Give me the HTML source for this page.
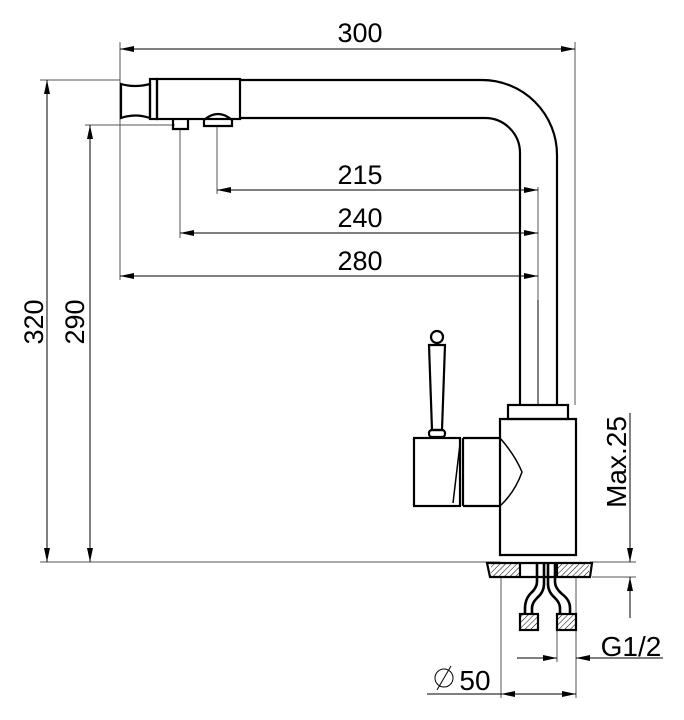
<!DOCTYPE html>
<html><head><meta charset="utf-8"><style>html,body{margin:0;padding:0;background:#fff}svg{display:block}text{font-family:"Liberation Sans",sans-serif;fill:#000}</style></head><body>
<svg width="684" height="720" viewBox="0 0 684 720" xmlns="http://www.w3.org/2000/svg">
<defs>
<marker id="a" viewBox="0 0 14 6" refX="14" refY="3" markerWidth="14" markerHeight="6" markerUnits="userSpaceOnUse" orient="auto"><path d="M0,0L14,3L0,6z" fill="#000"/></marker>
<pattern id="h" width="4" height="4" patternUnits="userSpaceOnUse" patternTransform="rotate(45)"><line x1="0" y1="0" x2="0" y2="4" stroke="#000" stroke-width="1"/></pattern>
</defs>
<g stroke="#555" stroke-width="1" fill="none">
<line x1="120" y1="42" x2="120" y2="280"/>
<line x1="575" y1="42" x2="575" y2="405"/>
<line x1="538" y1="187" x2="538" y2="405"/>
<line x1="40" y1="80" x2="120" y2="80"/>
<line x1="85" y1="125" x2="175" y2="125"/>
<line x1="40" y1="562" x2="500" y2="562"/>
<line x1="180" y1="128" x2="180" y2="238"/>
<line x1="217" y1="126" x2="217" y2="194"/>
<line x1="590" y1="562" x2="636" y2="562"/>
<line x1="592" y1="577" x2="636" y2="577"/>
<line x1="501" y1="577" x2="501" y2="698"/>
<line x1="576" y1="577" x2="576" y2="698"/>
<line x1="557" y1="630" x2="557" y2="662"/>
</g>
<g stroke="#000" stroke-width="1" fill="none">
<line x1="538" y1="190" x2="217" y2="190" marker-end="url(#a)"/>
<line x1="217" y1="190" x2="538" y2="190" marker-end="url(#a)"/>
<line x1="180" y1="233" x2="538" y2="233" marker-end="url(#a)"/>
<line x1="538" y1="233" x2="180" y2="233" marker-end="url(#a)"/>
<line x1="120" y1="276" x2="538" y2="276" marker-end="url(#a)"/>
<line x1="538" y1="276" x2="120" y2="276" marker-end="url(#a)"/>
<line x1="347" y1="49" x2="575" y2="49" marker-end="url(#a)"/>
<line x1="347" y1="49" x2="120" y2="49" marker-end="url(#a)"/>
<line x1="47" y1="320" x2="47" y2="80" marker-end="url(#a)"/>
<line x1="47" y1="320" x2="47" y2="562" marker-end="url(#a)"/>
<line x1="90" y1="340" x2="90" y2="125" marker-end="url(#a)"/>
<line x1="90" y1="340" x2="90" y2="562" marker-end="url(#a)"/>
<line x1="630" y1="413" x2="630" y2="562" marker-end="url(#a)"/>
<line x1="630" y1="618" x2="630" y2="577" marker-end="url(#a)"/>
<line x1="517" y1="658" x2="557" y2="658" marker-end="url(#a)"/>
<line x1="663" y1="658" x2="576" y2="658" marker-end="url(#a)"/>
<line x1="427" y1="694" x2="538" y2="694"/>
<line x1="538" y1="694" x2="501" y2="694" marker-end="url(#a)"/>
<line x1="538" y1="694" x2="576" y2="694" marker-end="url(#a)"/>
<circle cx="444" cy="678" r="9"/><line x1="437" y1="690" x2="451" y2="666"/>
</g>
<g stroke="#000" stroke-width="2.2" fill="none">
<path d="M240,80 H482 A75,75 0 0 1 557,155 V405"/>
<path d="M240,118 H485 A35,35 0 0 1 520,153 V405"/>
<line x1="538" y1="300" x2="538" y2="405" stroke-width="1"/>
<path d="M121,84 Q135,88 150,84 V118 Q135,113 121,118 Z"/>
<rect x="150" y="79" width="7" height="40"/>
<rect x="157" y="79" width="83" height="40"/>
<path d="M173,120 V129 H188 V120"/>
<path d="M204,126 V120 Q218,108 232,120 V126 Z"/>
<rect x="508" y="405" width="60" height="14"/>
<path d="M500,419 H576 V555 H500 Z"/>
<path d="M500,438 Q515,455 522,472 Q515,492 500,506" stroke-width="1.5"/>
<rect x="414" y="438" width="46" height="68"/>
<path d="M463,438 H500 M463,506 H500 M463,438 V506" />
<path d="M460,444 L453,503" stroke-width="1.5"/>
<path d="M429,345 L432,430 H442 L445,345 Z"/>
<circle cx="437" cy="337" r="6"/>
<rect x="429" y="430" width="16" height="7" rx="3"/>
<path d="M487,563 H592 L590,577 H490 Z"/>
<rect x="491" y="564" width="29" height="12" fill="url(#h)" stroke="none"/>
<rect x="557" y="564" width="32" height="12" fill="url(#h)" stroke="none"/>
<line x1="520" y1="563" x2="520" y2="577"/><line x1="557" y1="563" x2="557" y2="577"/>
<g stroke-width="2.6">
<path d="M537,563 V582 Q537,588 530,594 Q525,600 525,608 V614"/>
<path d="M544,563 V584 Q544,592 537,598 Q532,603 532,608 V614"/>
<path d="M548,563 V584 Q548,592 555,598 Q560,603 560,608 V614"/>
<path d="M555,563 V582 Q555,588 562,594 Q570,600 570,608 V614"/>
</g>
<rect x="520" y="614" width="18" height="16" fill="url(#h)"/>
<rect x="557" y="614" width="19" height="16" fill="url(#h)"/>
</g>
<text x="360" y="42" font-size="27" text-anchor="middle">300</text>
<text x="360" y="184" font-size="27" text-anchor="middle">215</text>
<text x="360" y="227" font-size="27" text-anchor="middle">240</text>
<text x="360" y="270" font-size="27" text-anchor="middle">280</text>
<text x="0" y="0" font-size="27" text-anchor="middle" transform="translate(43,322) rotate(-90)">320</text>
<text x="0" y="0" font-size="27" text-anchor="middle" transform="translate(84,322) rotate(-90)">290</text>
<text x="0" y="0" font-size="28" text-anchor="middle" transform="translate(626,462) rotate(-90)">Max.25</text>
<text x="631" y="656" font-size="28" text-anchor="middle">G1/2</text>
<text x="475" y="690" font-size="28" text-anchor="middle">50</text>
</svg>
</body></html>
